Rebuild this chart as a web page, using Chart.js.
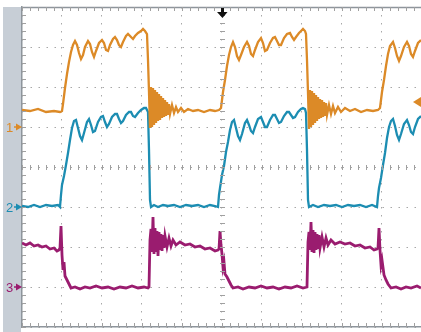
<!DOCTYPE html>
<html>
<head>
<meta charset="utf-8">
<script src="https://cdn.jsdelivr.net/npm/chart.js@4.4.1/dist/chart.umd.min.js"></script>
<style>
  html, body { margin: 0; padding: 0; background: #fff; }
  #wrap { width: 421px; height: 332px; }
</style>
</head>
<body>
<div id="wrap"><canvas id="scope" width="421" height="332"></canvas></div>
<script>
// [time ns, volts] pairs, 400 ns/div, 4 V/div
const ch1 = [
  [0,1.7],[80,1.6],[160,1.8],[240,1.5],[320,1.6],[380,1.5],[400,1.6],
  [410,2.3],[420,3.1],[430,3.9],[450,5.3],[470,6.5],[490,7.5],[510,8.2],[530,8.6],[550,8.2],[570,7.4],[590,6.8],
  [610,7.2],[630,8.0],[660,8.6],[680,8.3],[700,7.5],[720,7.0],[740,7.6],[770,8.4],[800,8.7],[820,8.4],[840,7.7],
  [860,7.6],[880,8.2],[910,8.8],[930,9.0],[950,8.7],[970,8.2],[990,8.0],[1010,8.5],[1040,9.1],[1060,9.3],[1090,9.0],
  [1110,8.8],[1130,9.1],[1160,9.4],[1190,9.6],[1210,9.8],[1230,9.6],[1250,9.3],
  [1260,6.7],[1270,3.5],
  [1280,-0.1],[1290,4.0],[1300,0.0],[1310,3.9],[1320,0.2],[1330,3.7],[1340,0.4],[1350,3.5],[1360,0.6],[1370,3.3],
  [1380,0.7],[1390,3.1],[1400,0.9],[1410,2.9],[1420,1.0],[1430,2.7],[1440,1.1],[1450,2.5],[1460,1.2],[1470,2.3],
  [1480,1.3],[1500,2.2],[1520,1.4],[1540,2.0],[1560,1.5],[1590,1.9],[1620,1.5],[1660,1.8],[1710,1.6],[1760,1.7],
  [1820,1.5],[1880,1.7],[1930,1.6],[1970,1.7],
  [1990,1.9],[2000,2.7],[2010,3.5],[2030,4.7],[2050,6.1],[2070,7.2],[2090,8.0],[2110,8.5],[2130,8.0],[2150,7.1],
  [2170,6.7],[2190,7.2],[2220,8.0],[2250,8.5],[2270,8.1],[2290,7.3],[2310,7.1],[2330,7.7],[2360,8.5],[2390,8.9],
  [2410,8.4],[2430,7.6],[2450,7.7],[2480,8.4],[2510,8.9],[2530,9.0],[2550,8.6],[2570,8.2],[2590,8.2],[2620,8.9],
  [2650,9.3],[2680,9.4],[2700,9.0],[2720,8.7],[2740,9.0],[2770,9.4],[2790,9.6],[2810,9.8],[2830,9.6],[2840,9.3],
  [2850,6.7],[2860,3.4],
  [2870,-0.2],[2880,3.7],[2890,0.0],[2900,3.6],[2910,0.2],[2920,3.4],[2930,0.4],[2940,3.2],[2950,0.6],[2960,3.0],
  [2970,0.8],[2980,2.8],[2990,0.9],[3000,2.7],[3010,1.0],[3020,2.5],[3030,1.1],[3040,2.4],[3050,1.2],[3070,2.2],
  [3090,1.3],[3110,2.1],[3130,1.4],[3160,2.0],[3190,1.5],[3230,1.9],[3280,1.6],[3330,1.8],[3390,1.5],[3450,1.7],
  [3510,1.6],[3560,1.7],
  [3580,1.9],[3590,2.7],[3600,3.5],[3620,4.7],[3640,6.1],[3660,7.3],[3680,8.1],[3710,8.5],[3730,7.9],[3750,7.1],
  [3770,6.6],[3790,7.1],[3820,8.0],[3850,8.5],[3870,8.1],[3890,7.3],[3910,7.0],[3930,7.6],[3960,8.4],[3990,8.7]
];

const ch2 = [
  [0,0.1],[60,0.0],[120,0.2],[180,0.0],[240,0.2],[300,0.1],[360,0.2],[380,0.0],
  [390,1.2],[400,2.2],[420,3.1],[440,4.2],[460,5.4],[480,6.7],[500,7.9],[520,8.6],[540,8.7],[560,7.9],[580,7.1],
  [600,6.7],[620,7.4],[650,8.5],[670,8.8],[690,8.2],[710,7.5],[730,7.6],[760,8.5],[790,9.0],[810,9.1],[830,8.5],
  [850,8.0],[870,8.3],[900,9.0],[930,9.3],[950,9.3],[970,8.8],[990,8.4],[1010,8.6],[1040,9.2],[1070,9.5],[1090,9.5],
  [1110,9.1],[1130,9.0],[1160,9.4],[1190,9.7],[1220,9.9],[1240,9.9],[1260,9.5],
  [1270,5.7],[1280,0.7],[1290,0.0],[1320,0.2],[1360,0.0],[1410,0.2],[1460,0.1],[1520,0.2],[1580,0.0],[1640,0.2],
  [1700,0.1],[1760,0.2],[1820,0.0],[1880,0.2],[1930,0.1],[1960,0.0],
  [1970,1.2],[1980,1.9],[2000,3.2],[2020,4.1],[2040,5.5],[2060,6.5],[2080,7.7],[2100,8.5],[2120,8.7],[2140,7.9],
  [2160,7.1],[2180,6.7],[2200,7.3],[2230,8.4],[2250,8.7],[2270,8.2],[2290,7.6],[2310,7.4],[2330,8.0],[2360,8.8],
  [2390,9.0],[2410,8.5],[2430,8.0],[2450,8.0],[2480,8.7],[2510,9.2],[2530,9.2],[2550,8.8],[2570,8.4],[2590,8.5],
  [2620,9.1],[2650,9.5],[2670,9.5],[2690,9.2],[2710,8.9],[2730,9.0],[2760,9.5],[2790,9.8],[2810,9.9],[2830,9.8],
  [2840,9.4],
  [2850,5.7],[2860,0.7],[2870,0.0],[2910,0.2],[2960,0.0],[3020,0.2],[3080,0.1],[3140,0.2],[3200,0.0],[3260,0.2],
  [3320,0.1],[3380,0.2],[3440,0.0],[3500,0.2],[3550,0.0],
  [3560,1.1],[3570,1.9],[3590,2.9],[3610,4.2],[3630,5.4],[3650,6.9],[3670,8.0],[3690,8.6],[3710,8.8],[3730,8.1],
  [3750,7.2],[3770,6.7],[3790,7.3],[3820,8.3],[3850,8.7],[3870,8.2],[3890,7.5],[3910,7.3],[3930,8.0],[3960,8.8],
  [3990,9.1]
];

const ch3 = [
  [0,4.4],[40,4.2],[80,4.4],[120,4.1],[160,4.2],[200,4.0],[240,4.1],[280,3.8],[320,3.9],[350,3.6],[370,3.7],
  [380,3.9],[390,6.1],[400,3.2],[410,1.7],[420,2.5],[430,1.1],[450,0.7],[470,0.3],[490,-0.1],
  [530,0.0],[580,-0.2],[630,0.0],[680,-0.1],[740,0.1],[800,-0.1],[860,0.0],[920,-0.2],[980,0.0],[1040,-0.1],
  [1100,0.1],[1160,-0.1],[1220,0.0],[1260,-0.1],
  [1270,0.0],[1280,4.7],[1290,5.8],[1300,3.5],[1310,7.0],[1320,3.3],[1330,5.9],[1340,3.5],[1350,5.6],[1360,3.1],
  [1370,5.5],[1380,3.7],[1390,5.3],[1400,3.6],[1410,5.2],[1420,3.9],[1430,5.1],[1450,4.0],[1470,4.9],[1490,4.1],
  [1510,4.7],[1540,4.2],[1580,4.5],[1630,4.2],[1680,4.3],[1730,4.0],[1780,4.1],[1830,3.8],[1880,3.9],[1930,3.6],
  [1960,3.7],
  [1970,3.8],[1980,5.6],[1990,4.2],[2000,3.3],[2010,2.0],[2020,2.5],[2030,1.3],[2050,1.0],[2070,0.6],[2090,0.2],
  [2110,-0.1],[2160,0.0],[2210,-0.2],[2270,0.0],[2330,-0.1],[2390,0.1],[2450,-0.1],[2510,0.0],[2570,-0.2],[2630,0.0],
  [2690,-0.1],[2750,0.1],[2810,-0.1],[2850,0.0],
  [2860,4.5],[2870,5.5],[2880,3.7],[2890,6.5],[2900,3.5],[2910,5.7],[2920,3.4],[2930,5.5],[2940,3.7],[2950,5.3],
  [2960,3.8],[2970,5.2],[2980,3.9],[3000,5.0],[3020,4.0],[3040,4.9],[3060,4.2],[3090,4.7],[3130,4.3],[3180,4.5],
  [3230,4.3],[3280,4.4],[3330,4.1],[3380,4.2],[3430,3.9],[3480,4.0],[3520,3.7],[3550,3.8],
  [3560,3.9],[3570,5.9],[3580,3.7],[3590,2.2],[3600,2.7],[3620,1.2],[3640,0.7],[3660,0.3],[3690,-0.1],
  [3740,0.0],[3790,-0.2],[3840,0.0],[3890,-0.1],[3950,0.1],[3990,-0.1]
];

const channelNames = ['1', '2', '3'];
const channelColors = ['#dc8a27', '#1c8db2', '#9a1c6f'];
const channelWidths = [2.3, 2.3, 2.8];
const channelGround = [5, 3, 1];   // ground marker, divisions from bottom
const voltsPerDiv = 4;
const nsPerDiv = 400;
const timeEnd = 3990;
const triggerTime = 2000;
const triggerLevel = 2.5;           // volts on channel 1

const toDiv = (g, v) => g + v / voltsPerDiv;

const scopeDecor = {
  id: 'scopeDecor',
  beforeDraw(chart) {
    const ctx = chart.ctx;
    ctx.save();
    ctx.fillStyle = '#ffffff';
    ctx.fillRect(0, 0, chart.width, chart.height);
    // side strip
    ctx.fillStyle = '#c7ced6';
    ctx.fillRect(3, chart.chartArea.top, chart.chartArea.left - 4, chart.height - chart.chartArea.top);
    ctx.restore();
  },
  afterDraw(chart) {
    const ctx = chart.ctx;
    const xs = chart.scales.x, ys = chart.scales.y;
    const a = chart.chartArea;
    ctx.save();
    ctx.strokeStyle = '#8e959c';
    ctx.lineWidth = 1.5;
    ctx.beginPath();
    ctx.moveTo(a.left, a.top + 0.5);
    ctx.lineTo(a.right, a.top + 0.5);
    ctx.stroke();

    // minor ticks, 5 per division
    ctx.lineWidth = 1;
    ctx.strokeStyle = '#a0a0a0';
    ctx.beginPath();
    const cy = ys.getPixelForValue(4);
    const cx = xs.getPixelForValue(triggerTime);
    for (let t = 0; t <= timeEnd; t += nsPerDiv / 5) {
      const px = Math.round(xs.getPixelForValue(t)) + 0.5;
      ctx.moveTo(px, a.top); ctx.lineTo(px, a.top + 4);
      ctx.moveTo(px, a.bottom); ctx.lineTo(px, a.bottom - 4);
      ctx.moveTo(px, cy - 2); ctx.lineTo(px, cy + 3);
    }
    for (let d = 0; d <= 8; d += 0.2) {
      const py = Math.round(ys.getPixelForValue(d)) + 0.5;
      ctx.moveTo(a.left, py); ctx.lineTo(a.left + 4, py);
      ctx.moveTo(cx - 2, py); ctx.lineTo(cx + 3, py);
    }
    ctx.stroke();

    // channel ground markers
    ctx.font = '13px "Liberation Sans", Arial, sans-serif';
    ctx.textBaseline = 'middle';
    ctx.textAlign = 'left';
    channelNames.forEach((name, i) => {
      const py = ys.getPixelForValue(channelGround[i]);
      ctx.fillStyle = channelColors[i];
      ctx.strokeStyle = channelColors[i];
      ctx.fillText(name, 6, py + 1);
      ctx.lineWidth = 1.5;
      ctx.beginPath();
      ctx.moveTo(14, py); ctx.lineTo(19, py);
      ctx.stroke();
      ctx.beginPath();
      ctx.moveTo(16, py - 3.5); ctx.lineTo(22, py); ctx.lineTo(16, py + 3.5);
      ctx.closePath();
      ctx.fill();
    });

    // trigger position arrow
    ctx.fillStyle = '#111';
    ctx.fillRect(cx - 1, a.top + 1, 3, 6);
    ctx.beginPath();
    ctx.moveTo(cx - 5, a.top + 5);
    ctx.lineTo(cx + 5.5, a.top + 5);
    ctx.lineTo(cx + 0.5, a.top + 11);
    ctx.closePath();
    ctx.fill();

    // trigger level arrow
    const ty = ys.getPixelForValue(toDiv(channelGround[0], triggerLevel));
    ctx.fillStyle = channelColors[0];
    ctx.beginPath();
    ctx.moveTo(a.right - 8, ty);
    ctx.lineTo(a.right, ty - 5);
    ctx.lineTo(a.right, ty + 5);
    ctx.closePath();
    ctx.fill();
    ctx.restore();
  }
};

const traces = [ch1, ch2, ch3].map((pts, i) => ({
  label: 'CH' + channelNames[i],
  data: pts.map(p => ({ x: p[0], y: toDiv(channelGround[i], p[1]) })),
  borderColor: channelColors[i],
  borderWidth: channelWidths[i],
  pointRadius: 0,
  tension: 0,
  fill: false
}));

new Chart(document.getElementById('scope'), {
  type: 'line',
  data: { datasets: traces },
  options: {
    responsive: false,
    animation: false,
    events: [],
    layout: { padding: { left: 22, top: 7, right: 0, bottom: 5 } },
    plugins: { legend: { display: false }, tooltip: { enabled: false } },
    scales: {
      x: {
        type: 'linear',
        min: 0,
        max: timeEnd,
        ticks: { display: false, stepSize: nsPerDiv, includeBounds: false },
        grid: { color: '#a8a8a8', lineWidth: 1, drawTicks: false },
        border: { display: true, color: '#8e959c', width: 1.5, dash: [1.5, 6.5] }
      },
      y: {
        type: 'linear',
        min: 0,
        max: 8,
        ticks: { display: false, stepSize: 1 },
        grid: { color: '#a8a8a8', lineWidth: 1, drawTicks: false },
        border: { display: true, color: '#8e959c', width: 1.5, dash: [1.5, 6.5] }
      }
    }
  },
  plugins: [scopeDecor]
});
</script>
</body>
</html>
